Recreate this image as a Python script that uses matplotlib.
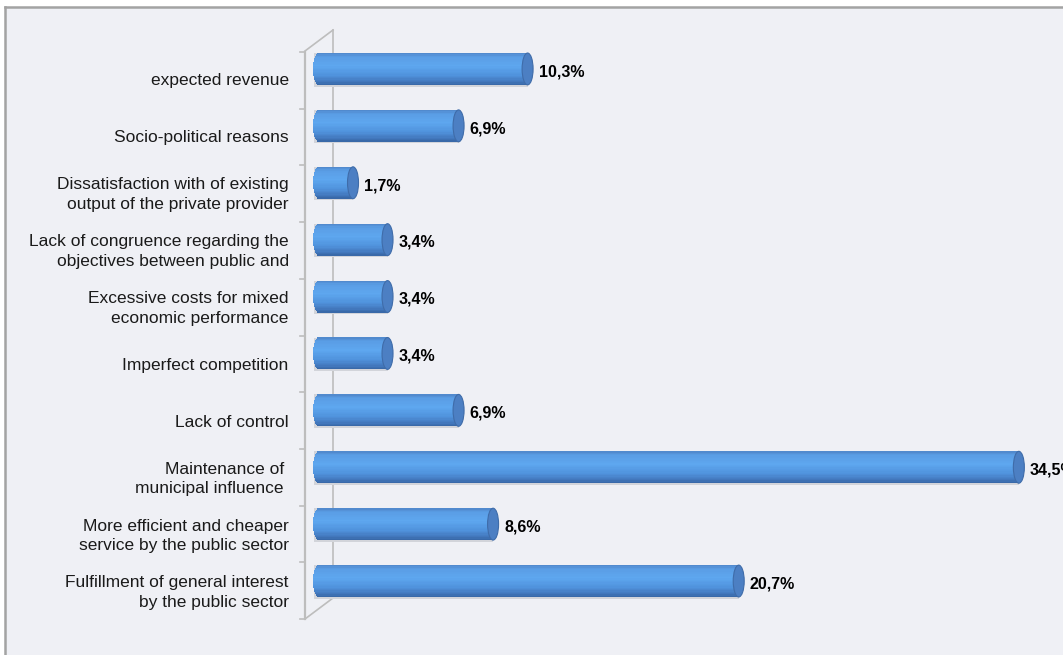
import matplotlib.pyplot as plt
import numpy as np
from matplotlib.patches import Ellipse, Rectangle
from matplotlib.lines import Line2D
from matplotlib.colors import LinearSegmentedColormap

plt.rcParams['font.family'] = ['Liberation Sans', 'DejaVu Sans']

categories = [
    "expected revenue",
    "Socio-political reasons",
    "Dissatisfaction with of existing\noutput of the private provider",
    "Lack of congruence regarding the\nobjectives between public and",
    "Excessive costs for mixed\neconomic performance",
    "Imperfect competition",
    "Lack of control",
    "Maintenance of \nmunicipal influence ",
    "More efficient and cheaper\nservice by the public sector",
    "Fulfillment of general interest\nby the public sector",
]
values = [10.3, 6.9, 1.7, 3.4, 3.4, 3.4, 6.9, 34.5, 8.6, 20.7]
value_labels = ["10,3%", "6,9%", "1,7%", "3,4%", "3,4%", "3,4%", "6,9%", "34,5%", "8,6%", "20,7%"]

W, H = 1063, 655
fig = plt.figure(figsize=(W / 100, H / 100), dpi=100, facecolor='white')


def fx(px):
    return px / W


def fy(py):
    return 1 - py / H


# chart area background with grey border on top/left
fig.patches.append(Rectangle((fx(5), 0), 1, fy(7), transform=fig.transFigure,
                             facecolor='#EFF0F5', edgecolor='none', zorder=-5))
fig.add_artist(Line2D([fx(5), 1], [fy(7), fy(7)], color='#A3A3A3', lw=1.8, zorder=-1))
fig.add_artist(Line2D([fx(5), fx(5)], [0, fy(7)], color='#A3A3A3', lw=1.8, zorder=-1))

# 3d wall lines
wall = '#BDBDBD'
fig.add_artist(Line2D([fx(305), fx(305)], [fy(52), fy(619)], color=wall, lw=1.6, zorder=-1))
fig.add_artist(Line2D([fx(333), fx(333)], [fy(30), fy(598)], color=wall, lw=1.2, zorder=-1))
fig.add_artist(Line2D([fx(305), fx(333)], [fy(51), fy(30)], color=wall, lw=1.2, zorder=-1))
fig.add_artist(Line2D([fx(305), fx(333)], [fy(619), fy(598)], color=wall, lw=1.2, zorder=-1))
for k in range(11):
    yy = 52 + 56.7 * k
    fig.add_artist(Line2D([fx(300), fx(305)], [fy(yy), fy(yy)], color=wall, lw=1.2, zorder=-1))

scale = 20.3
x0 = 318.5
ax = fig.add_axes([fx(x0), 1 - 609.5 / H, (W - x0) / W, 569 / H])
ax.set_zorder(1)
ax.set_xlim(0, (W - x0) / scale)
ax.set_ylim(len(values) - 0.5, -0.5)
ax.axis('off')

cmap = LinearSegmentedColormap.from_list('cyl', [
    (0.0, '#4F86CA'), (0.12, '#5A9DE5'), (0.4, '#5EA7EF'),
    (0.7, '#5092DC'), (0.9, '#4277BC'), (1.0, '#3765A4')])

bar_h = 0.56
r = 5.5 / scale
n = 24
for i, v in enumerate(values):
    # faint shadow
    ax.barh(i + 0.015, v + r * 0.8, left=-r * 0.8, height=bar_h + 0.03,
            color='#D2D4DA', zorder=1, clip_on=False)
    for j in range(n):
        t = -1 + (j + 0.5) * 2 / n
        s = np.sqrt(max(1 - t * t, 0))
        ax.barh(i + t * bar_h / 2, v + r * s, left=-r * s, height=bar_h / n * 1.05,
                color=cmap((t + 1) / 2), linewidth=0, zorder=2, clip_on=False)
    ax.add_patch(Ellipse((v, i), 2 * r, bar_h, facecolor='#4C7FC3',
                         edgecolor='#3F6CA9', lw=0.8, zorder=3, clip_on=False))
    ax.annotate(value_labels[i], xy=(v + r, i), xytext=(4, -2),
                textcoords='offset points', va='center', ha='left',
                fontsize=11.5, fontweight='bold', color='black',
                annotation_clip=False)

for i, c in enumerate(categories):
    ax.annotate(c, xy=(0, i), xytext=(-21.5, -8.5), textcoords='offset points',
                ha='right', va='center', fontsize=12.5, color='#1A1A1A',
                multialignment='right', linespacing=1.4, annotation_clip=False)

fig.savefig('out.png', dpi=100)
